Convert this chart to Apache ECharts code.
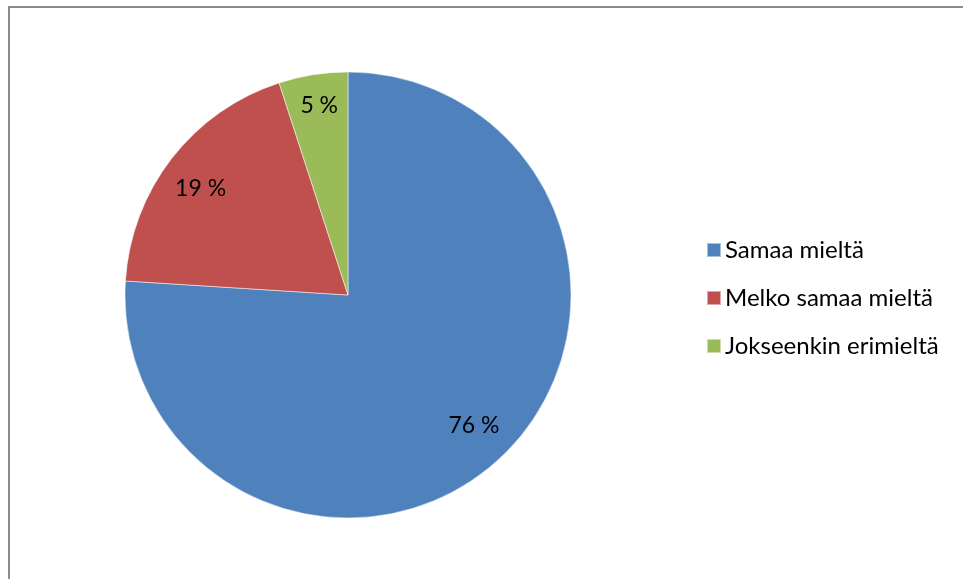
<!DOCTYPE html>
<html>
<head>
<meta charset="utf-8">
<style>
  html, body { margin: 0; padding: 0; background: #fff; }
  #chart { width: 963px; height: 579px; }
</style>
<script src="https://cdn.jsdelivr.net/npm/echarts@6/dist/echarts.min.js"></script>
</head>
<body>
<div id="chart"></div>
<script>
// Vastausten jakauma (%)
const categories = ['Samaa mieltä', 'Melko samaa mieltä', 'Jokseenkin erimieltä'];
const values = [76, 19, 5];
const colors = ['#4F81BD', '#C0504D', '#9BBB59'];

const font = 'Lato, "Noto Sans", sans-serif';
const pieData = categories.map((name, i) => ({ name, value: values[i] }));

const chart = echarts.init(document.getElementById('chart'), null, { renderer: 'canvas' });
chart.setOption({
  animation: false,
  color: colors,
  graphic: [
    {
      type: 'polyline',
      silent: true,
      shape: { points: [[9, 579], [9, 7], [963, 7]] },
      style: { stroke: '#8c8c8c', lineWidth: 2, fill: null }
    }
  ],
  legend: {
    orient: 'vertical',
    left: 701,
    top: 233,
    itemWidth: 14,
    itemHeight: 14,
    itemGap: 24,
    icon: 'rect',
    textStyle: { fontFamily: font, fontSize: 24, color: '#000', padding: [0, 0, 0, -1] },
    data: categories
  },
  series: [
    {
      type: 'pie',
      center: [348, 295],
      radius: [0, 223],
      startAngle: 90,
      clockwise: true,
      silent: true,
      label: { show: false },
      labelLine: { show: false },
      itemStyle: { borderColor: 'rgba(255,255,255,0.5)', borderWidth: 1 },
      data: pieData
    },
    {
      // label ring: places the percentage text at about 0.8 of the radius
      type: 'pie',
      center: [348, 295],
      radius: [173, 189],
      startAngle: 90,
      clockwise: true,
      silent: true,
      legendHoverLink: false,
      itemStyle: { color: 'rgba(0,0,0,0)' },
      label: {
        show: true,
        position: 'inside',
        formatter: p => p.value + ' %',
        fontFamily: font,
        fontSize: 23,
        color: '#000'
      },
      labelLine: { show: false },
      data: pieData.map((d, i) => {
        if (i === 0) return { ...d, label: { offset: [0, -4] } };
        if (i === 1) return { ...d, label: { offset: [-2, 6] } };
        return { ...d, label: { offset: [0, -8] } };
      })
    }
  ]
});
</script>
</body>
</html>
